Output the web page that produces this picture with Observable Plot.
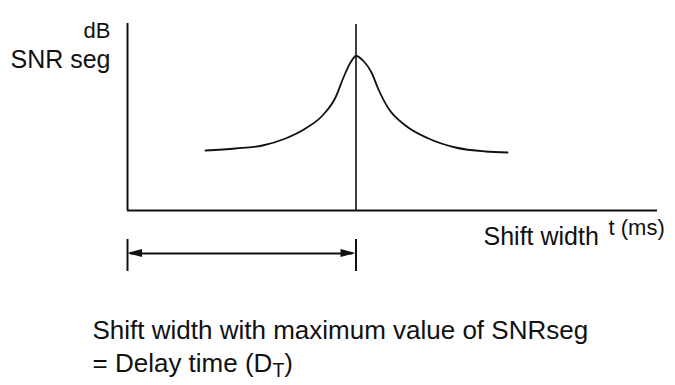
<!DOCTYPE html>
<html>
<head>
<meta charset="utf-8">
<script src="https://cdn.jsdelivr.net/npm/d3@7"></script>
<script src="https://cdn.jsdelivr.net/npm/@observablehq/plot@0.6"></script>
<style>
  html, body { margin: 0; padding: 0; background: #fff; }
  #chart { width: 675px; height: 385px; overflow: hidden; }
</style>
</head>
<body>
<div id="chart"></div>
<script>
// Segmental SNR against the shift width t (schematic units: t in ms, SNRseg in dB)
const shiftMs  = [7.8, 10.8, 13.5, 15.8, 17.8, 19.5, 20.8, 21.6, 22.3, 22.85, 23.6, 24.4, 25.1, 26.1, 27.8, 30.1, 32.8, 35.8, 38.0];
const snrSegDb = [6.0, 6.2, 6.5, 7.2, 8.2, 9.5, 11.3, 13.3, 14.8, 15.45, 14.95, 13.8, 12.1, 10.2, 8.5, 7.2, 6.3, 5.9, 5.8];

// Shift width at which SNRseg peaks = delay time D_T
const delayTime = 22.85;

// Extent of the drawn axes
const tMax = 53;
const dbMax = 18.7;

// Text
const yUnitLabel = "dB";
const yNameLabel = "SNR seg";
const xNameLabel = "Shift width";
const xUnitLabel = "t (ms)";
const captionLines = ["Shift width with maximum value of SNRseg", "= Delay time (DT)"];

const curve = shiftMs.map((t, i) => ({t, db: snrSegDb[i]}));

const ink = "#111";
const font = "'Liberation Sans', Arial, Helvetica, sans-serif";

// Bracket (double arrow) from the origin to the delay time, below the t axis
const bracketY = -4.3;
const head = 1.5, halfW = 0.4;
const leftHead = [
  {t: 0, y1: bracketY, y2: bracketY},
  {t: head, y1: bracketY - halfW, y2: bracketY + halfW}
];
const rightHead = [
  {t: delayTime, y1: bracketY, y2: bracketY},
  {t: delayTime - head, y1: bracketY - halfW, y2: bracketY + halfW}
];

const chart = Plot.plot({
  width: 675,
  height: 385,
  marginLeft: 127,
  marginRight: 18,
  marginTop: 23,
  marginBottom: 175,
  x: {domain: [0, tMax], axis: null},
  y: {domain: [0, dbMax], axis: null},
  style: {background: "#fff", fontFamily: font, color: ink},
  marks: [
    // axes
    Plot.ruleX([0], {y1: 0, y2: dbMax, stroke: ink, strokeWidth: 2}),
    Plot.ruleY([0], {x1: 0, x2: tMax, stroke: ink, strokeWidth: 2}),
    // vertical line through the peak
    Plot.ruleX([delayTime], {y1: 0, y2: dbMax - 0.1, stroke: ink, strokeWidth: 1.6}),
    // SNRseg curve
    Plot.line(curve, {x: "t", y: "db", curve: "monotone-x", stroke: ink, strokeWidth: 1.8}),
    // delay-time bracket
    Plot.ruleY([bracketY], {x1: 0.3, x2: delayTime - 0.3, stroke: ink, strokeWidth: 2}),
    Plot.ruleX([0, delayTime], {y1: bracketY + 1.4, y2: bracketY - 1.8, stroke: ink, strokeWidth: 2}),
    Plot.areaY(leftHead, {x: "t", y1: "y1", y2: "y2", fill: ink, curve: "linear"}),
    Plot.areaY(rightHead, {x: "t", y1: "y1", y2: "y2", fill: ink, curve: "linear"}),
    // y-axis labels
    Plot.text([yUnitLabel], {x: -1.7, y: 17.3, text: d => d, textAnchor: "end", lineAnchor: "bottom", fontSize: "22px", fill: ink}),
    Plot.text([yNameLabel], {x: -1.7, y: 14.3, text: d => d, textAnchor: "end", lineAnchor: "bottom", fontSize: "25px", fill: ink}),
    // x-axis labels
    Plot.text([xNameLabel], {x: 35.6, y: -3.4, text: d => d, textAnchor: "start", lineAnchor: "bottom", fontSize: "25px", fill: ink}),
    Plot.text([xUnitLabel], {x: 48.1, y: -2.4, text: d => d, textAnchor: "start", lineAnchor: "bottom", fontSize: "22px", fill: ink}),
    // caption
    Plot.text(captionLines, {x: -3.5, y: (d, i) => -12.8 - 3.3 * i, text: d => d, textAnchor: "start", lineAnchor: "bottom", fontSize: "26px", fill: ink})
  ]
});

// Set the T of "DT" as a subscript
d3.select(chart).selectAll("text").each(function () {
  if (this.textContent === captionLines[1]) {
    const el = d3.select(this);
    el.text("= Delay time (D");
    el.append("tspan").attr("font-size", "0.75em").attr("dy", "0.28em").text("T");
    el.append("tspan").attr("dy", "-0.21em").text(")");
  }
});

document.getElementById("chart").appendChild(chart);
</script>
</body>
</html>
